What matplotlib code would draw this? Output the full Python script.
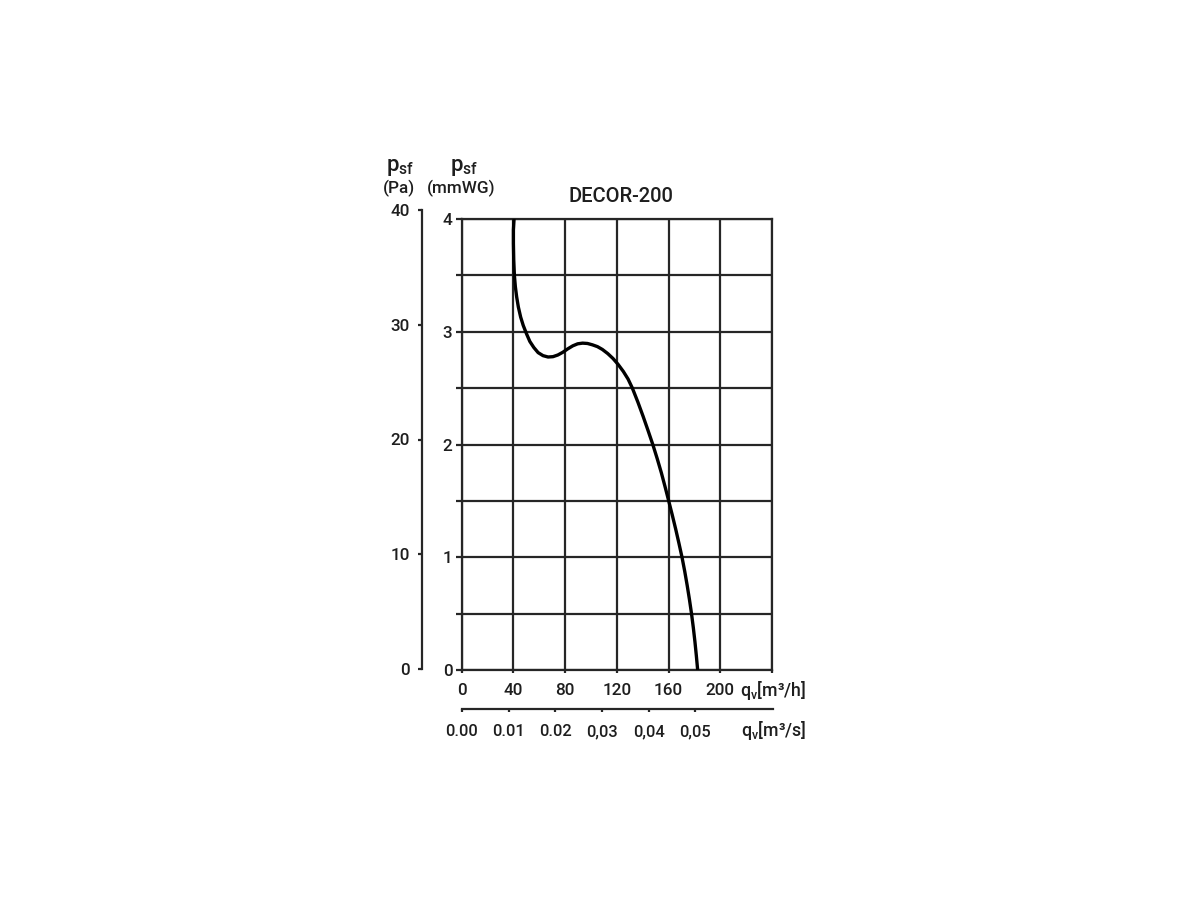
import matplotlib
matplotlib.use('Agg')
import matplotlib.pyplot as plt
from matplotlib import font_manager as fm


def pick(fams):
    for f in fams:
        try:
            fm.findfont(fm.FontProperties(family=f), fallback_to_default=False)
            return f
        except Exception:
            pass
    return 'DejaVu Sans'


MAIN = pick(['Roboto', 'DejaVu Sans'])
NARROW = pick(['Liberation Sans Narrow', 'Roboto', 'DejaVu Sans'])
plt.rcParams['font.family'] = [MAIN, 'DejaVu Sans']

# ---- data ----
title = 'DECOR-200'
flow_m3h = [40.5, 40.0, 40.0, 40.25, 40.76, 41.5, 42.5, 43.8, 45.6, 47.6,
            50.2, 52.7, 55.8, 59.1, 62.9, 66.8, 70.6, 74.4, 78.2, 82.0,
            85.9, 89.7, 93.5, 97.3, 101.1, 105.0, 108.8, 113.0, 117.0,
            121.0, 125.0, 128.7, 132.0, 136.3, 140.3, 144.1, 147.8,
            151.2, 154.4, 157.3, 160.1, 162.85, 165.5, 168.0, 170.4, 172.5,
            174.4, 176.15, 177.75, 179.15, 180.4, 181.5, 182.5]
pressure_mmwg = [4.0, 3.903, 3.785, 3.638, 3.5, 3.40, 3.31, 3.22, 3.13, 3.056,
                 2.98, 2.914, 2.86, 2.815, 2.788, 2.776, 2.779, 2.794, 2.818,
                 2.848, 2.875, 2.893, 2.899, 2.896, 2.884, 2.868, 2.843, 2.806,
                 2.763, 2.71, 2.648, 2.58, 2.5, 2.375, 2.25, 2.125, 2.0,
                 1.875, 1.75, 1.625, 1.5, 1.375, 1.25, 1.125, 1.0, 0.875,
                 0.75, 0.625, 0.5, 0.375, 0.25, 0.125, 0.0]

x_ticks_m3h = [0, 40, 80, 120, 160, 200, 240]
x_labels_m3h = ['0', '40', '80', '120', '160', '200', '']
y_ticks_mmwg = [0, 0.5, 1, 1.5, 2, 2.5, 3, 3.5, 4]
y_labels_mmwg = ['0', '', '1', '', '2', '', '3', '', '4']
pa_ticks = [0, 10, 20, 30, 40]
pa_labels = ['0', '10', '20', '30', '40']
m3s_ticks = [0.0, 0.01, 0.02, 0.03, 0.04, 0.05]
m3s_labels = ['0.00', '0.01', '0.02', '0,03', '0,04', '0,05']

W, H = 1200, 900
fig = plt.figure(figsize=(12, 9), dpi=100)
fig.patch.set_facecolor('white')


def fx(px):
    return px / W


def fy(py):
    return 1 - py / H


TXT = '#1e1e1e'
GRID = '#262626'
FS = 12.3
WT = 500

# ---- main axes ----
L, R, T, B = 461.7, 772.0, 219.0, 670.0
ax = fig.add_axes([fx(L), fy(B), (R - L) / W, (B - T) / H])
ax.set_xlim(0, 240)
ax.set_ylim(0, 4)
ax.set_xticks(x_ticks_m3h)
ax.set_xticklabels(x_labels_m3h, fontweight=WT)
ax.set_yticks(y_ticks_mmwg)
ax.set_yticklabels(y_labels_mmwg, fontweight=WT)
ax.grid(True, color=GRID, lw=1.6)
ax.set_axisbelow(True)
for s in ax.spines.values():
    s.set_color(GRID)
    s.set_linewidth(1.6)
ax.tick_params(axis='y', direction='out', length=4.3, width=1.6, pad=2.5,
               colors=GRID, labelcolor=TXT, labelsize=FS)
ax.tick_params(axis='x', direction='out', length=2.5, width=1.6, pad=7.0,
               colors=GRID, labelcolor=TXT, labelsize=FS)
ax.plot(flow_m3h, pressure_mmwg, color='black', lw=2.4,
        solid_capstyle='butt', solid_joinstyle='round', zorder=5)

# ---- Pa axis ----
axp = fig.add_axes([fx(422), fy(669), 0.0005, (669 - 210) / H])
axp.patch.set_visible(False)
for k in ['top', 'right', 'bottom']:
    axp.spines[k].set_visible(False)
axp.spines['left'].set_color(GRID)
axp.spines['left'].set_linewidth(1.6)
axp.set_ylim(0, 40)
axp.set_xticks([])
axp.set_yticks(pa_ticks)
axp.set_yticklabels(pa_labels, fontweight=WT)
axp.tick_params(axis='y', direction='out', length=3, width=1.6, pad=6,
                colors=GRID, labelcolor=TXT, labelsize=FS)

# ---- m3/s axis ----
axs = fig.add_axes([fx(462), fy(709), (773 - 462) / W, 0.0005])
axs.patch.set_visible(False)
for k in ['top', 'right', 'left']:
    axs.spines[k].set_visible(False)
axs.spines['bottom'].set_color(GRID)
axs.spines['bottom'].set_linewidth(1.6)
axs.set_xlim(0, 240 / 3600)
axs.set_yticks([])
axs.set_xticks(m3s_ticks)
axs.set_xticklabels(m3s_labels, family=[NARROW, 'DejaVu Sans'], fontweight=WT)
axs.tick_params(axis='x', direction='out', length=2.5, width=1.6, pad=8.5,
                colors=GRID, labelcolor=TXT, labelsize=11.8)

# ---- texts ----
fig.text(fx(621), fy(196), title, ha='center', va='center', fontsize=14.5,
         color=TXT, fontweight=WT)
fig.text(fx(740), fy(691), 'q$_{\\mathregular{v}}$[m³/h]', ha='left',
         va='center', fontsize=FS + 0.5, color=TXT, fontweight=WT)
fig.text(fx(741), fy(731), 'q$_{\\mathregular{v}}$[m³/s]', ha='left',
         va='center', fontsize=FS + 0.5, color=TXT, fontweight=WT,
         family=[NARROW, 'DejaVu Sans'])
fig.text(fx(400), fy(168), 'p$_{\\mathregular{sf}}$', ha='center',
         va='center', fontsize=16, color=TXT, fontweight=WT)
fig.text(fx(399), fy(188), '(Pa)', ha='center', va='center', fontsize=FS,
         color=TXT, fontweight=WT)
fig.text(fx(464), fy(168), 'p$_{\\mathregular{sf}}$', ha='center',
         va='center', fontsize=16, color=TXT, fontweight=WT)
fig.text(fx(461.5), fy(188), '(mmWG)', ha='center', va='center',
         fontsize=FS, color=TXT, fontweight=WT)

fig.savefig('out.png', dpi=100, facecolor='white')
